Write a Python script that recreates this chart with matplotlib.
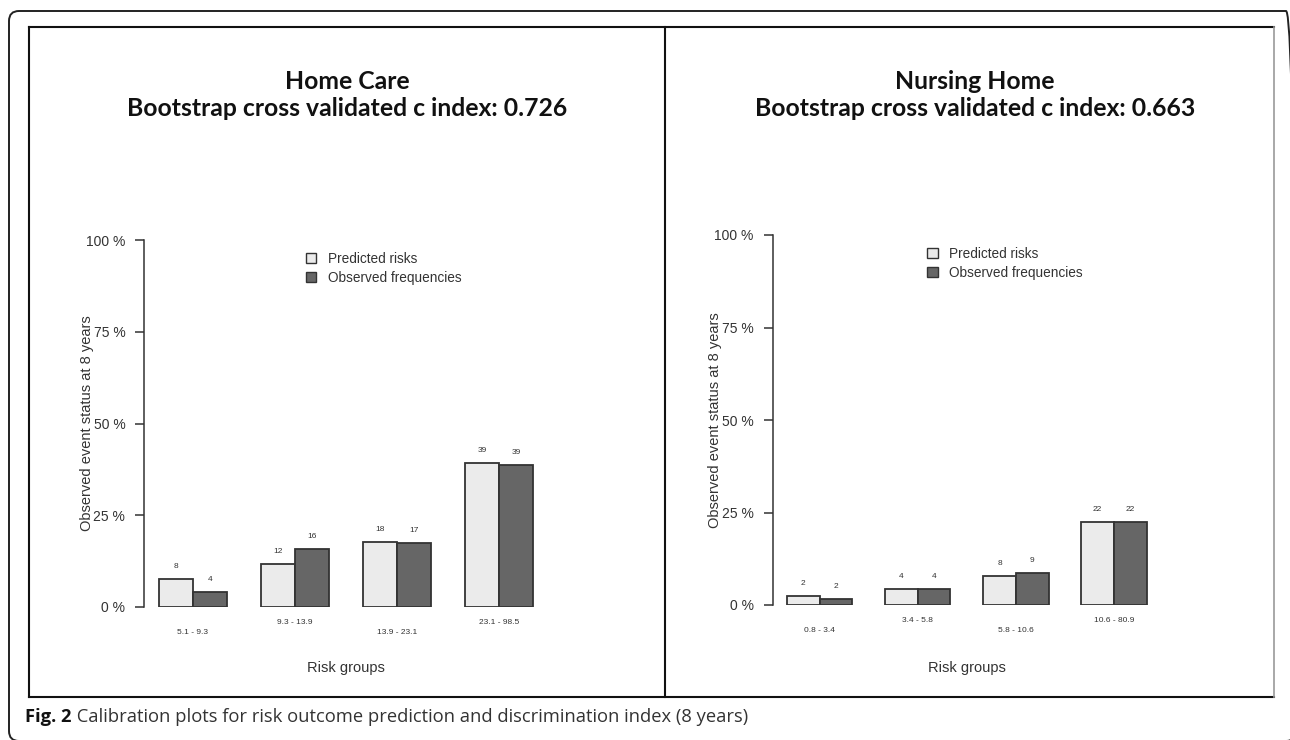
import matplotlib.pyplot as plt
from matplotlib.patches import Patch, FancyBboxPatch
from matplotlib.lines import Line2D

# data
hc_groups = ['5.1 - 9.3', '9.3 - 13.9', '13.9 - 23.1', '23.1 - 98.5']
hc_predicted = [7.6, 11.6, 17.8, 39.3]
hc_observed = [4.0, 15.8, 17.4, 38.7]

nh_groups = ['0.8 - 3.4', '3.4 - 5.8', '5.8 - 10.6', '10.6 - 80.9']
nh_predicted = [2.4, 4.4, 7.8, 22.3]
nh_observed = [1.6, 4.2, 8.7, 22.3]

titles = ['Home Care\nBootstrap cross validated c index: 0.726',
          'Nursing Home\nBootstrap cross validated c index: 0.663']
y_ticks = [0, 25, 50, 75, 100]
y_tick_labels = ['0 %', '25 %', '50 %', '75 %', '100 %']

PRED_COL = '#ebebeb'
OBS_COL = '#666666'
EDGE = '#333333'
TXT = '#333333'

W, H = 1290, 740
fig = plt.figure(figsize=(W / 100, H / 100), dpi=100)
plt.rcParams['font.family'] = ['Liberation Sans', 'DejaVu Sans']


def px_axes(left, top, right, bottom):
    return fig.add_axes([left / W, 1 - bottom / H, (right - left) / W, (bottom - top) / H])


def calib_plot(ax, groups, pred, obs, leg_x, ylab_x, xlab_y):
    n = len(groups)
    # R barplot beside=TRUE layout: bars of width 1, one gap between groups
    pred_x = [1.5 + 3 * i for i in range(n)]
    obs_x = [2.5 + 3 * i for i in range(n)]
    ax.bar(pred_x, pred, width=1, color=PRED_COL, edgecolor=EDGE, linewidth=1.3)
    ax.bar(obs_x, obs, width=1, color=OBS_COL, edgecolor=EDGE, linewidth=1.3)
    for x, v in zip(pred_x + obs_x, pred + obs):
        ax.annotate(f'{v:.0f}', (x, v), xytext=(0, 9), textcoords='offset points',
                    ha='center', va='center', fontsize=6, color=TXT)
    for i, g in enumerate(groups):
        off = -26 if i % 2 == 0 else -16
        ax.annotate(g, (2 + 3 * i, 0), xytext=(0, off * 0.72),
                    textcoords='offset points', ha='center', va='center',
                    fontsize=6, color=TXT, annotation_clip=False)
    ax.set_xlim(0.56, 3 * n + 0.44)
    ax.set_ylim(0, 100)
    for s in ['top', 'right', 'bottom']:
        ax.spines[s].set_visible(False)
    ax.spines['left'].set_color(TXT)
    ax.spines['left'].set_linewidth(1.1)
    ax.set_xticks([])
    ax.set_yticks(y_ticks)
    ax.set_yticklabels(y_tick_labels)
    ax.tick_params(axis='y', length=6.5, width=1.1, color=TXT, labelsize=10,
                   labelcolor=TXT, pad=7)
    ax.set_ylabel('Observed event status at 8 years', fontsize=10.5, color=TXT)
    ax.yaxis.set_label_coords(ylab_x, 0.5)
    ax.set_xlabel('Risk groups', fontsize=10.5, color=TXT)
    ax.xaxis.set_label_coords(0.5, xlab_y)
    ax.patch.set_alpha(0)
    handles = [Patch(facecolor=PRED_COL, edgecolor=EDGE, label='Predicted risks'),
               Patch(facecolor=OBS_COL, edgecolor=EDGE, label='Observed frequencies')]
    ax.legend(handles=handles, loc='upper left', bbox_to_anchor=(leg_x, 0.968),
              frameon=False, fontsize=9.8, handlelength=0.8, handleheight=0.8,
              handletextpad=0.85, labelspacing=0.38, borderpad=0, borderaxespad=0,
              labelcolor=TXT)


ax1 = px_axes(144, 240, 548, 607)
calib_plot(ax1, hc_groups, hc_predicted, hc_observed, 0.40, -0.124, -0.147)
ax2 = px_axes(772.6, 235, 1161, 605)
calib_plot(ax2, nh_groups, nh_predicted, nh_observed, 0.397, -0.130, -0.151)

# panel titles
for cx, t in zip([347, 975], titles):
    fig.text(cx / W, 1 - 95 / H, t, ha='center', va='center', fontsize=17.8,
             family=['Lato', 'DejaVu Sans'], fontweight='bold', color='#111111',
             linespacing=1.2)

# frames (inch coordinates, 100 px per inch)
inch = fig.dpi_scale_trans
outer = FancyBboxPatch((0.09, (H - 741) / 100), (1296 - 9) / 100, (741 - 11) / 100,
                       boxstyle='round,pad=0,rounding_size=0.1', transform=inch,
                       fill=False, edgecolor='#222222', linewidth=1.4)
fig.patches.append(outer)


def hline(x0, x1, y, **kw):
    fig.add_artist(Line2D([x0 / 100, x1 / 100], [(H - y) / 100] * 2, transform=inch, **kw))


def vline(x, y0, y1, **kw):
    fig.add_artist(Line2D([x / 100] * 2, [(H - y0) / 100, (H - y1) / 100], transform=inch, **kw))


hline(29, 1274, 27, color='#111111', lw=1.5)
hline(29, 1274, 697, color='#111111', lw=1.5)
vline(29, 27, 697, color='#111111', lw=1.5)
vline(665, 27, 697, color='#111111', lw=1.5)
vline(1274, 27, 697, color='#999999', lw=1.2)

# caption
cap = fig.text(25 / W, 1 - 717 / H, 'Fig. 2', ha='left', va='center', fontsize=13.2,
               family=['Open Sans', 'DejaVu Sans'], fontweight='bold', color='#111111')
fig.add_artist(plt.Annotation(
    ' Calibration plots for risk outcome prediction and discrimination index (8 years)',
    xy=(1, 0.5), xycoords=cap, ha='left', va='center', fontsize=13.2,
    family=['Open Sans', 'DejaVu Sans'], color='#333333', annotation_clip=False))

fig.savefig('out.png', dpi=100)
